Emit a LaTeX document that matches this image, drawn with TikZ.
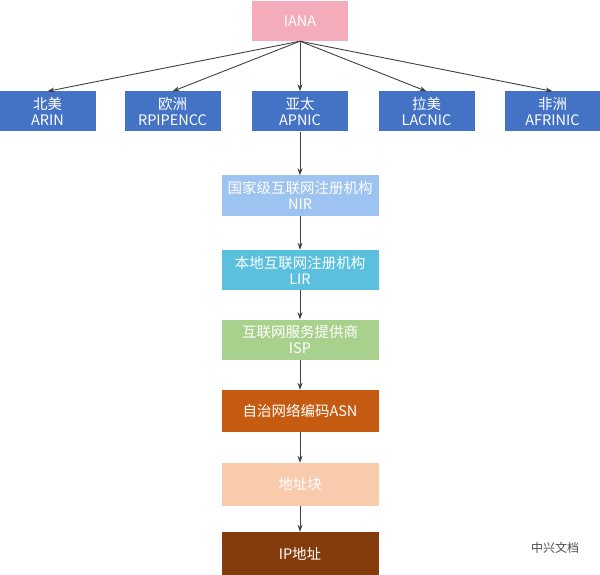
\documentclass[tikz,border=0pt]{standalone}
\usepackage{fontspec}
\setmainfont{Noto Sans CJK SC}
\usetikzlibrary{arrows.meta,positioning}
\definecolor{ianapink}{HTML}{F4ABBA}
\definecolor{rirblue}{HTML}{4472C4}
\definecolor{nirblue}{HTML}{9DC3F0}
\definecolor{lircyan}{HTML}{5BC0DE}
\definecolor{ispgreen}{HTML}{A9D18E}
\definecolor{asnorange}{HTML}{C55A11}
\definecolor{blkpeach}{HTML}{F8CBAD}
\definecolor{ipbrown}{HTML}{843C0C}

\begin{document}
\begin{tikzpicture}[x=1pt,y=-1pt,
  box/.style={minimum width=96pt,minimum height=40pt,inner sep=0pt,align=center,
    font=\fontsize{14.5}{16}\selectfont,text=white},
  wide/.style={box,minimum width=157pt},
  link/.style={-{Stealth[length=7pt,width=5pt]},draw=black!75,line width=0.9pt}]

  \useasboundingbox (0,0) rectangle (600,575);

  % ---- Top level -------------------------------------------
  \node[box,fill=ianapink] (iana) at (300,21) {IANA};

  % ---- Regional registries ---------------------------------
  \node[box,fill=rirblue] (arin)   at (47.5,111.5)  {北美\\ARIN};
  \node[box,fill=rirblue] (ripe)   at (172.5,111.5) {欧洲\\RPIPENCC};
  \node[box,fill=rirblue] (apnic)  at (300,111.5)   {亚太\\APNIC};
  \node[box,fill=rirblue] (lacnic) at (426.5,111.5) {拉美\\LACNIC};
  \node[box,fill=rirblue] (afri)   at (552.5,111.5) {非洲\\AFRINIC};

  % ---- Chain below APNIC -----------------------------------
  \node[wide,fill=nirblue]   (nir) at (300,195.5) {国家级互联网注册机构\\NIR};
  \node[wide,fill=lircyan]   (lir) at (300,270)   {本地互联网注册机构\\LIR};
  \node[wide,fill=ispgreen]  (isp) at (300,339.5) {互联网服务提供商\\ISP};
  \node[wide,fill=asnorange,minimum height=42pt] (asn) at (300,411) {自治网络编码ASN};
  \node[wide,fill=blkpeach,minimum height=43pt]  (blk) at (300,484.5) {地址块};
  \node[wide,fill=ipbrown,minimum height=43pt]   (ip)  at (300,553.5) {IP地址};

  % ---- Connectors ------------------------------------------
  \foreach \r in {arin,ripe,apnic,lacnic,afri}
    \draw[link] (iana.south) -- (\r.north);
  \draw[link] (apnic) -- (nir);
  \draw[link] (nir) -- (lir);
  \draw[link] (lir) -- (isp);
  \draw[link] (isp) -- (asn);
  \draw[link] (asn) -- (blk);
  \draw[link] (blk) -- (ip);

  % watermark
  \node[font=\fontsize{12}{14}\selectfont,text=black!70] (mark) at (555,548) {中兴文档};
\end{tikzpicture}
\end{document}
